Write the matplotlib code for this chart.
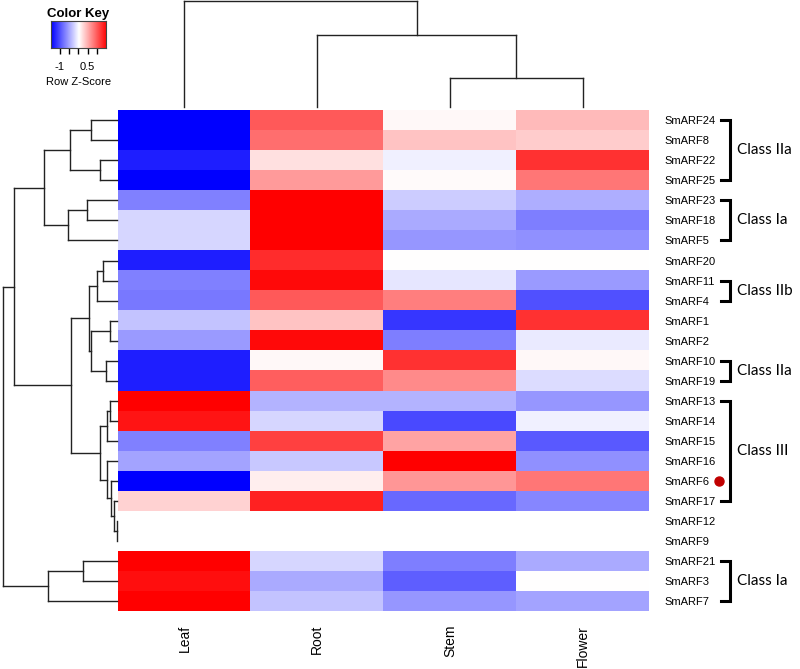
import numpy as np
import matplotlib
matplotlib.use("Agg")
import matplotlib.pyplot as plt
import matplotlib.transforms as mtransforms

plt.rcParams['font.family'] = ['Liberation Sans', 'DejaVu Sans']

# tissues (columns) and genes (rows, top to bottom)
tissues = ["Leaf", "Root", "Stem", "Flower"]
genes = ["SmARF24", "SmARF8", "SmARF22", "SmARF25", "SmARF23", "SmARF18", "SmARF5",
         "SmARF20", "SmARF11", "SmARF4", "SmARF1", "SmARF2", "SmARF10", "SmARF19",
         "SmARF13", "SmARF14", "SmARF15", "SmARF16", "SmARF6", "SmARF17", "SmARF12",
         "SmARF9", "SmARF21", "SmARF3", "SmARF7"]

# row z-scores (Leaf, Root, Stem, Flower)
zscores = np.array([
    [-1.50, 0.97, 0.04, 0.41],
    [-1.50, 0.85, 0.35, 0.30],
    [-1.32, 0.18, -0.09, 1.20],
    [-1.50, 0.59, 0.03, 0.80],
    [-0.75, 1.50, -0.30, -0.47],
    [-0.24, 1.50, -0.50, -0.76],
    [-0.24, 1.50, -0.62, -0.65],
    [-1.32, 1.24, 0.00, 0.00],
    [-0.75, 1.44, -0.15, -0.59],
    [-0.79, 0.97, 0.76, -1.03],
    [-0.35, 0.35, -1.18, 1.20],
    [-0.59, 1.44, -0.76, -0.12],
    [-1.32, 0.04, 1.20, 0.04],
    [-1.32, 0.94, 0.68, -0.20],
    [1.50, -0.44, -0.44, -0.62],
    [1.38, -0.24, -1.06, -0.09],
    [-0.75, 1.12, 0.53, -0.97],
    [-0.53, -0.32, 1.50, -0.65],
    [-1.50, 0.10, 0.62, 0.80],
    [0.26, 1.29, -0.88, -0.71],
    [np.nan, np.nan, np.nan, np.nan],
    [np.nan, np.nan, np.nan, np.nan],
    [1.50, -0.24, -0.76, -0.50],
    [1.41, -0.50, -0.94, 0.00],
    [1.50, -0.35, -0.62, -0.53],
])

# row dendrogram merges: (child, child, height); leaves 0..24, new clusters from 25
row_merges = [
    (0, 1, 26), (2, 3, 17), (25, 26, 47), (4, 5, 30), (28, 6, 49), (27, 29, 73),
    (7, 8, 14), (31, 9, 20), (10, 11, 7), (12, 13, 11), (33, 34, 26), (32, 35, 28),
    (14, 15, 7), (37, 16, 10), (20, 21, 0.3), (19, 39, 3), (18, 40, 6), (17, 41, 10),
    (38, 42, 17), (36, 43, 46), (30, 44, 103), (22, 23, 34), (46, 24, 69),
    (45, 47, 114.3),
]
# column dendrogram merges: leaves 0..3
col_merges = [(2, 3, 29), (1, 4, 72), (0, 5, 106)]

# class brackets: (first row, last row, label)
classes = [
    ("SmARF24", "SmARF25", "Class IIa"),
    ("SmARF23", "SmARF5", "Class Ia"),
    ("SmARF11", "SmARF4", "Class IIb"),
    ("SmARF10", "SmARF19", "Class IIa"),
    ("SmARF13", "SmARF17", "Class III"),
    ("SmARF21", "SmARF7", "Class Ia"),
]
marked_gene = "SmARF6"

key_ticks = [-1, -0.5, 0, 0.5, 1]
key_labels = ["-1", "", "", "0.5", ""]
vmin, vmax = -1.5, 1.5

W, H = 800, 669


def box(x0, y0, x1, y1):
    # pixel box (top-left origin) -> figure rect
    return [x0 / W, 1 - y1 / H, (x1 - x0) / W, (y1 - y0) / H]


def draw_dendro(ax, merges, n, vertical=False):
    pos = {i: float(i) for i in range(n)}
    hgt = {i: 0.0 for i in range(n)}
    for k, (a, b, h) in enumerate(merges):
        for c in (a, b):
            xs = [pos[c], pos[c]]
            ys = [hgt[c], h]
            if vertical:
                ax.plot(xs, ys, color="#222222", lw=1, clip_on=False)
            else:
                ax.plot(ys, xs, color="#222222", lw=1, clip_on=False)
        if vertical:
            ax.plot([pos[a], pos[b]], [h, h], color="#222222", lw=1, clip_on=False)
        else:
            ax.plot([h, h], [pos[a], pos[b]], color="#222222", lw=1, clip_on=False)
        pos[n + k] = (pos[a] + pos[b]) / 2
        hgt[n + k] = h


fig = plt.figure(figsize=(8, 6.69), dpi=100)

# heatmap
ax = fig.add_axes(box(118, 110.3, 649, 611))
cmap = plt.get_cmap("bwr").copy()
cmap.set_bad("white")
ax.imshow(np.ma.masked_invalid(zscores), cmap=cmap, vmin=vmin, vmax=vmax,
          aspect="auto", interpolation="nearest")
for s in ax.spines.values():
    s.set_visible(False)
ax.yaxis.tick_right()
ax.set_yticks(range(len(genes)))
ax.set_yticklabels(genes, fontsize=8)
ax.set_xticks(range(len(tissues)))
ax.set_xticklabels(tissues, fontsize=10, rotation=90, va="top")
ax.tick_params(axis="y", length=0, pad=11)
ax.tick_params(axis="x", length=0, pad=10)

# row dendrogram
axr = fig.add_axes(box(0, 110.3, 117, 611))
draw_dendro(axr, row_merges, len(genes))
axr.set_ylim(len(genes) - 0.5, -0.5)
axr.set_xlim(117, 0)
axr.axis("off")

# column dendrogram
axc = fig.add_axes(box(118, 0, 649, 107))
draw_dendro(axc, col_merges, len(tissues), vertical=True)
axc.set_xlim(-0.5, len(tissues) - 0.5)
axc.set_ylim(0, 107)
axc.axis("off")

# class brackets
trans = mtransforms.blended_transform_factory(fig.transFigure, ax.transData)
bx, tx0 = 730 / W, 721 / W
for first, last, label in classes:
    r0, r1 = genes.index(first), genes.index(last)
    ax.plot([tx0, bx, bx, tx0], [r0, r0, r1, r1], color="black", lw=2.2,
            transform=trans, clip_on=False, solid_joinstyle="miter")
    ax.text(737 / W, (r0 + r1) / 2, label, transform=trans, fontsize=11,
            family=["Lato", "DejaVu Sans"], va="center", ha="left")
ax.plot([719 / W], [genes.index(marked_gene)], "o", color="#c00000", ms=6.5,
        transform=trans, clip_on=False)

# colour key
axk = fig.add_axes(box(50.7, 21, 106, 47.7))
grad = np.linspace(vmin, vmax, 256)[None, :]
axk.imshow(grad, cmap="bwr", vmin=vmin, vmax=vmax, aspect="auto",
           extent=[vmin, vmax, 0, 1])
axk.set_yticks([])
axk.set_xticks(key_ticks)
axk.set_xticklabels(key_labels, fontsize=8)
axk.tick_params(axis="x", length=4, width=1, pad=6)
for s in axk.spines.values():
    s.set_color("#444444")
    s.set_linewidth(0.8)
axk.set_title("Color Key", fontsize=9.5, fontweight="bold", pad=3)
axk.set_xlabel("Row Z-Score", fontsize=8, labelpad=4)

fig.savefig("out.png", dpi=100)
